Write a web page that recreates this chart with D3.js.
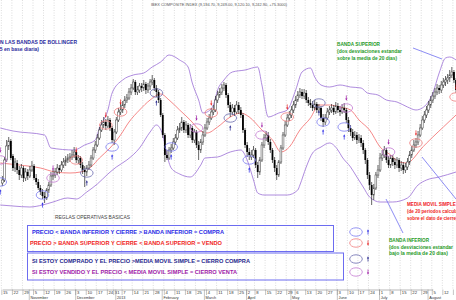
<!DOCTYPE html>
<html>
<head>
<meta charset="utf-8">
<script src="https://cdn.jsdelivr.net/npm/d3@7"></script>
<style>
  body { margin: 0; background: #fff; }
  svg { display: block; font-family: "Liberation Sans", Arial, sans-serif; }
</style>
</head>
<body>
<svg id="chart" width="456" height="300"></svg>
<script>
// IBEX daily candles, Oct 2012 - Aug 2013, with 20 day Bollinger bands
const holidays = ['2012-12-25', '2012-12-26', '2013-01-01', '2013-03-29', '2013-04-01', '2013-05-01'];

const openPx = [
  7770,7800,8000,8140,8190,8040,7920,7970,7900,
  7850,7920,7820,7880,7840,7900,7940,7820,7780,7720,
  7680,7640,7620,7700, 7750,7840,7850,7880,7920,
  7900,7950,7980,8000,8020,8030,8050,8080,8000,8020,
  7950,7900,7880,7920,7950,8020,8100,8150,8220,8300,
  8350,8380,8340,8400,8320,8200,8280,8400,8480,8500,
  8550,8600,8620,8680, 8720,8780,8680,8700,8740,
  8720,8760,8700,8740,8780,8800,8720,8680,8600,8450,
  8250,8050,8020,8100,8120,8180,8220,8300,8320,8380,
  8300,8350,8250,8320,8200,8280,8150,8100,8180,8250,
  8320,8380,8420,8480, 8500,8600,8650,8680,8720,
  8750,8650,8550,8480,8520,8480,8550,8500,8450,8300,
  8150,8080,8030,8050,8100,7950,7880,8000,8150,8220,
  8250,8180,8100,8000,7920,7850,7980,8120,8250,8350,
  8420,8450,8500,8550, 8600,8650,8680,8640,8670,
  8600,8570,8550,8520,8560,8500,8520,8420,8380,8420,
  8480,8500,8520,8480,8540,8500,8480,8520,8500,8400,
  8320,8280,8220,8250,8200,8220,8170,8100,8000,7850,
  7750,7650,7720,7850, 7900,8020,8050,8100,8000,
  7950,8020,7980,7950,8000,7920,7950,7900,7930,7980,
  8050,8100,8150,8180,8250,8320,8400,8450,8500,8550,
  8600,8640,8680,8720,8700,8750,8780,8800,8820,8850,
  8880,8800
];
const highPx = [
  7840,8030,8200,8230,8210,8060,8020,8000,7940,
  7960,7940,7920,7910,7940,7990,7960,7860,7810,7750,
  7710,7680,7720,7780, 7880,7900,7920,7960,7950,
  7990,8020,8040,8060,8070,8100,8130,8100,8050,8040,
  7980,7940,7950,7990,8050,8130,8190,8260,8330,8400,
  8430,8410,8440,8420,8340,8310,8430,8520,8560,8590,
  8640,8660,8720,8760, 8810,8800,8740,8770,8770,
  8800,8780,8770,8810,8850,8820,8750,8700,8620,8470,
  8270,8100,8130,8160,8220,8260,8340,8370,8430,8400,
  8390,8370,8360,8340,8310,8300,8190,8210,8290,8360,
  8420,8460,8520,8550, 8640,8690,8720,8760,8780,
  8770,8670,8580,8560,8550,8590,8580,8530,8470,8320,
  8180,8120,8100,8140,8120,7980,8030,8180,8260,8290,
  8280,8210,8120,8030,7950,8000,8150,8280,8390,8460,
  8490,8540,8590,8640, 8690,8720,8710,8710,8700,
  8630,8610,8590,8600,8580,8560,8540,8460,8460,8520,
  8540,8560,8550,8580,8570,8540,8560,8570,8520,8430,
  8350,8310,8290,8280,8260,8250,8200,8120,8020,7880,
  7780,7760,7880,7950, 8070,8100,8140,8120,8040,
  8050,8050,8020,8030,8020,7990,7980,7970,8020,8090,
  8140,8200,8220,8290,8360,8440,8490,8540,8590,8640,
  8680,8720,8760,8750,8790,8820,8840,8860,8900,8930,
  8900,8820
];
const lowPx = [
  7740,7780,7980,8100,8000,7890,7880,7860,7800,
  7820,7780,7790,7800,7820,7880,7800,7750,7700,7650,
  7610,7570,7600,7670, 7730,7800,7820,7850,7860,
  7880,7920,7940,7970,7980,8000,8020,7970,7960,7920,
  7860,7730,7840,7900,7930,8000,8070,8130,8200,8280,
  8320,8300,8320,8290,8170,8150,8260,8380,8450,8470,
  8520,8570,8600,8650, 8700,8650,8650,8670,8680,
  8690,8660,8670,8700,8750,8690,8630,8570,8430,8220,
  7980,8000,8000,8070,8100,8150,8200,8270,8290,8270,
  8270,8220,8220,8170,8170,8120,8000,8070,8150,8230,
  8300,8350,8400,8450, 8480,8570,8620,8650,8690,
  8620,8520,8430,8450,8440,8460,8460,8420,8270,8120,
  8030,8000,8000,8020,7920,7820,7850,7980,8120,8190,
  8150,8070,7970,7880,7800,7830,7960,8100,8230,8330,
  8390,8420,8470,8520, 8580,8620,8610,8610,8570,
  8540,8520,8490,8500,8470,8470,8390,8330,8350,8400,
  8450,8470,8450,8460,8470,8440,8460,8470,8370,8280,
  8240,8190,8200,8160,8170,8130,8060,7960,7810,7700,
  7550,7600,7700,7820, 7880,7990,8020,7970,7920,
  7920,7940,7910,7920,7880,7890,7860,7870,7900,7950,
  8020,8080,8120,8150,8230,8300,8370,8420,8470,8520,
  8570,8610,8650,8660,8670,8720,8740,8760,8780,8820,
  8770,8670
];
const closePx = [
  7800,8000,8140,8190,8020,7920,7980,7900,7850,
  7920,7820,7880,7840,7900,7940,7820,7780,7720,7680,
  7640,7620,7700,7750, 7840,7850,7880,7920,7900,
  7950,7980,8000,8020,8030,8050,8080,8000,8020,7950,
  7900,7880,7920,7950,8020,8100,8150,8220,8300,8350,
  8380,8340,8400,8320,8200,8280,8400,8480,8500,8550,
  8600,8620,8680,8720, 8780,8680,8700,8740,8720,
  8760,8700,8740,8780,8800,8720,8680,8600,8450,8250,
  8050,8020,8100,8120,8180,8220,8300,8320,8380,8300,
  8350,8250,8320,8200,8280,8150,8100,8180,8250,8320,
  8380,8420,8480,8500, 8600,8650,8680,8720,8750,
  8650,8550,8480,8520,8480,8550,8500,8450,8300,8150,
  8080,8050,8050,8100,7950,7880,8000,8150,8220,8250,
  8180,8100,8000,7920,7850,7980,8120,8250,8350,8420,
  8450,8500,8550,8600, 8650,8680,8640,8670,8600,
  8570,8550,8520,8560,8500,8520,8420,8380,8420,8480,
  8500,8520,8480,8540,8500,8480,8520,8500,8400,8320,
  8280,8220,8250,8200,8220,8170,8100,8000,7850,7750,
  7650,7720,7850,7900, 8020,8050,8100,8000,7950,
  8020,7980,7950,8000,7920,7950,7900,7930,7980,8050,
  8100,8150,8180,8250,8320,8400,8450,8500,8550,8600,
  8640,8680,8720,8700,8750,8780,8800,8820,8850,8880,
  8800,8700
];

// bands (trading day index, level)
const upperDay = [-1,5,20,23,34,39,44,46,50,52,57,62,67,71,75,79,84,88,90,93,95,97,100,102,105,109,115,121,123,126,131,135,139,142,146,148,151,155,160,165,170,173,178,182,187,192,196,199,204,207,210,212,215];
const upperBand = [8320,8290,8250,8120,8100,8150,8200,8320,8500,8670,8800,8850,8870,8930,8980,9050,9000,8930,8770,8600,8470,8480,8550,8700,8800,8880,8900,8930,8750,8430,8470,8500,8700,8880,8920,8830,8750,8730,8750,8730,8720,8670,8650,8600,8580,8530,8500,8520,8670,8870,9020,9030,9000];
const smaDay = [-1,8,18,25,32,37,42,46,51,56,60,65,70,75,79,84,89,94,97,102,108,113,117,123,128,132,136,141,146,150,155,160,165,169,174,179,184,188,192,195,198,204,209,215];
const smaLine = [7970,7950,7920,7880,7870,7880,7930,8020,8120,8250,8380,8500,8600,8660,8600,8500,8400,8290,8270,8330,8430,8470,8430,8300,8200,8080,8130,8300,8420,8550,8550,8530,8500,8400,8300,8130,8050,7980,7970,8020,8100,8230,8330,8450];
const lowerDay = [-1,5,13,19,24,31,35,40,45,50,54,59,65,70,73,76,78,80,84,89,94,96,102,108,113,116,119,121,124,135,140,141,144,147,151,155,159,161,165,168,171,174,179,185,192,197,201,207,215];
const lowerBand = [7550,7540,7530,7550,7580,7620,7610,7680,7760,7860,7930,8000,8120,8280,8350,8250,8050,7920,7860,7830,7950,8020,8030,8080,8100,8000,7800,7670,7650,7650,7700,7750,7930,8070,8130,8170,8100,8030,7930,7830,7730,7630,7580,7580,7620,7750,7800,7830,7880];

// circled signals drawn on the chart
const signalDay = [-1,-1,19,24,35,40,49,52,56,73,80,92,99,108,117,123,135,150,152,163,162,183,196,215];
const signalPrice = [7780,8000,7650,7820,8000,7870,8350,8130,8480,8670,8130,8320,8470,8420,8000,8250,8430,8570,8380,8520,8330,8080,8170,8630];
const signalKind = ['buy','closeSell','buy','closeSell','sell','closeBuy','sell','buy','sell','closeBuy','buy','closeSell','sell','closeBuy','buy','closeSell','sell','closeBuy','buy','closeSell','buy','closeSell','sell','sell'];

const kinds = {
  buy:       { ring: '#7b7bf0', arrow: '#2b2be6', up: true },
  sell:      { ring: '#f07c7c', arrow: '#e82222', up: false },
  closeBuy:  { ring: '#6a6aae', arrow: '#26268c', up: true },
  closeSell: { ring: '#c47ad2', arrow: '#a020a8', up: false }
};

const width = 456, height = 300, plotBottom = 289.5;
const svg = d3.select('#chart');

const holidaySet = new Set(holidays);
const fmtDay = d3.timeFormat('%Y-%m-%d');
const days = d3.timeDay.range(new Date(2012, 9, 15), new Date(2013, 8, 30))
  .filter(d => d.getDay() % 6 !== 0 && !holidaySet.has(fmtDay(d)))
  .slice(0, closePx.length);

const x = d3.scaleLinear().domain([0, 204]).range([2.4, 2.4 + 204 * 2.11]);
const y = d3.scaleLinear().domain([6600, 9600]).range([300, 0]);

const weekStarts = d3.range(days.length)
  .filter(i => i === 0 || +d3.timeMonday.floor(days[i]) !== +d3.timeMonday.floor(days[i - 1]));
const monthStarts = d3.range(1, days.length)
  .filter(i => days[i].getMonth() !== days[i - 1].getMonth());

svg.append('defs').append('clipPath').attr('id', 'plot')
  .append('rect').attr('width', width).attr('height', plotBottom);

// dotted week grid
svg.append('g')
  .selectAll('line')
  .data(weekStarts)
  .enter()
  .append('line')
  .attr('x1', d => x(d - 0.5)).attr('x2', d => x(d - 0.5))
  .attr('y1', 0).attr('y2', plotBottom)
  .attr('stroke', '#c4c4c4')
  .attr('stroke-width', 0.6)
  .attr('stroke-dasharray', '1,1.5');

const plot = svg.append('g').attr('clip-path', 'url(#plot)');

const bandLine = d3.line().curve(d3.curveMonotoneX);
const drawBand = (dayIdx, vals, color) => plot.append('path')
  .attr('d', bandLine(dayIdx.map((d, i) => [x(d), y(vals[i])])))
  .attr('fill', 'none')
  .attr('stroke', color)
  .attr('stroke-width', 0.8);

drawBand(upperDay, upperBand, '#9b6fd6');
drawBand(lowerDay, lowerBand, '#9b6fd6');
drawBand(smaDay, smaLine, '#f26a6a');

// candles
const candle = plot.append('g')
  .selectAll('g')
  .data(d3.range(closePx.length))
  .enter()
  .append('g');

candle.append('line')
  .attr('x1', i => x(i)).attr('x2', i => x(i))
  .attr('y1', i => y(highPx[i])).attr('y2', i => y(lowPx[i]))
  .attr('stroke', '#222')
  .attr('stroke-width', 0.7);

candle.append('rect')
  .attr('x', i => x(i) - 0.9)
  .attr('width', 1.8)
  .attr('y', i => y(Math.max(openPx[i], closePx[i])))
  .attr('height', i => Math.max(0.6, Math.abs(y(openPx[i]) - y(closePx[i]))))
  .attr('fill', i => closePx[i] < openPx[i] ? '#000' : '#fff')
  .attr('stroke', i => closePx[i] < openPx[i] ? 'none' : '#4a4a4a')
  .attr('stroke-width', 0.55);

function arrow(g, cx, cy, up, color) {
  const s = up ? 1 : -1;
  g.append('line')
    .attr('x1', cx).attr('x2', cx)
    .attr('y1', cy + 2.6 * s).attr('y2', cy - 1 * s)
    .attr('stroke', color).attr('stroke-width', 0.7);
  g.append('path')
    .attr('d', `M${cx - 1.1},${cy - 0.6 * s}L${cx},${cy - 2.8 * s}L${cx + 1.1},${cy - 0.6 * s}Z`)
    .attr('fill', color);
}

function ring(g, cx, cy, color) {
  g.append('ellipse')
    .attr('cx', cx).attr('cy', cy)
    .attr('rx', 6.3).attr('ry', 4.2)
    .attr('fill', 'none')
    .attr('stroke', color)
    .attr('stroke-width', 0.8);
}

const signals = plot.append('g');
signalDay.forEach((d, i) => {
  const k = kinds[signalKind[i]];
  const cx = x(d), cy = y(signalPrice[i]);
  ring(signals, cx, cy, k.ring);
  arrow(signals, cx, k.up ? cy + 10 : cy - 10, k.up, k.arrow);
});

// x axis: week days on top row, months below
const lastLabel = 450;
const axis = svg.append('g').attr('transform', `translate(0,${plotBottom})`);
axis.call(d3.axisBottom(x)
    .tickValues(weekStarts.map(i => i - 0.5))
    .tickSize(5.5).tickSizeOuter(0)
    .tickFormat(v => x(v) > lastLabel ? '' : d3.timeFormat('%-d')(days[Math.round(v + 0.5)])));
axis.select('.domain').attr('stroke', '#888').attr('stroke-width', 0.6);
axis.selectAll('.tick line').attr('stroke', '#888').attr('stroke-width', 0.5);
axis.selectAll('.tick text')
  .attr('x', 1.2).attr('y', 1.3).attr('dy', '0.71em')
  .attr('text-anchor', 'start')
  .attr('fill', '#333')
  .style('font-size', '4.2px');

const monthAxis = svg.append('g').attr('transform', `translate(0,${plotBottom})`);
monthAxis.call(d3.axisBottom(x)
    .tickValues(monthStarts.map(i => i - 0.5))
    .tickSize(10.5).tickSizeOuter(0)
    .tickFormat(v => {
      const d = days[Math.round(v + 0.5)];
      return d.getMonth() === 0 ? d3.timeFormat('%Y')(d) : d3.timeFormat('%B')(d);
    }));
monthAxis.select('.domain').remove();
monthAxis.selectAll('.tick line').attr('stroke', '#888').attr('stroke-width', 0.5);
monthAxis.selectAll('.tick text')
  .attr('x', 1.2).attr('y', 6.6).attr('dy', '0.71em')
  .attr('text-anchor', 'start')
  .attr('fill', '#333')
  .style('font-size', '3.8px');

// pointer lines for the notes
const pointers = [
  [413, 48, 442, 59, '#7070f0'],
  [386, 199, 403, 233, '#7070f0'],
  [422, 157, 456, 199, '#7070f0']
];
svg.append('g')
  .selectAll('line')
  .data(pointers)
  .enter()
  .append('line')
  .attr('x1', d => d[0]).attr('y1', d => d[1])
  .attr('x2', d => d[2]).attr('y2', d => d[3])
  .attr('stroke', d => d[4])
  .attr('stroke-width', 0.8);

// rule boxes
svg.append('rect').attr('x', 27.5).attr('y', 225.5).attr('width', 306).attr('height', 26)
  .attr('fill', 'none').attr('stroke', '#6c6cf0').attr('stroke-width', 1);
svg.append('rect').attr('x', 27.5).attr('y', 253).attr('width', 316).attr('height', 27)
  .attr('fill', 'none').attr('stroke', '#6c6cf0').attr('stroke-width', 1);

function label(tx, ty, str, opts) {
  const t = svg.append('text')
    .attr('x', tx).attr('y', ty)
    .attr('fill', opts.color)
    .attr('text-anchor', opts.anchor || 'start')
    .style('font-size', (opts.size || 4.6) + 'px')
    .style('font-weight', opts.bold === false ? 'normal' : 'bold')
    .text(str);
  if (opts.len) t.attr('textLength', opts.len).attr('lengthAdjust', 'spacingAndGlyphs');
  return t;
}

label(151, 5.5, 'IBEX COMPOSITE INDEX (9,194.70, 9,249.00, 9,120.10, 9,242.90, +75.3000)',
  { color: '#555', size: 4.4, bold: false, len: 136 });

label(77, 44, 'COMO OPERAR CON LAS BANDAS DE BOLLINGER', { color: '#2b2b9e', size: 5, anchor: 'end' });
label(39, 50.5, '(IBEX 35 en base diaria)', { color: '#2b2b9e', size: 5, anchor: 'end' });

label(337, 46, 'BANDA SUPERIOR', { color: '#1f9a1f', len: 43 });
label(337, 53, '(dos desviaciones estandar', { color: '#1f9a1f', len: 65 });
label(337, 60, 'sobre la media de 20 dias)', { color: '#1f9a1f', len: 60 });

label(389, 242, 'BANDA INFERIOR', { color: '#1f9a1f', len: 40 });
label(389, 248.5, '(dos desviaciones estandar', { color: '#1f9a1f', len: 64 });
label(389, 255, 'bajo la media de 20 dias)', { color: '#1f9a1f', len: 59 });

label(407, 206, 'MEDIA MOVIL SIMPLE', { color: '#f02424' });
label(407, 213, '(de 20 periodos calculada', { color: '#f02424' });
label(407, 220, 'sobre el dato de cierre)', { color: '#f02424' });

label(55, 218.5, 'REGLAS OPERATIVAS BASICAS', { color: '#444', size: 4.8, bold: false, len: 75 });

label(32, 234, 'PRECIO < BANDA INFERIOR Y CIERRE > BANDA INFERIOR = COMPRA', { color: '#2b2be6', size: 5.2, len: 192 });
label(30, 244.5, 'PRECIO > BANDA SUPERIOR Y CIERRE < BANDA SUPERIOR = VENDO', { color: '#f02424', size: 5.2, len: 192 });
label(32, 262.5, 'SI ESTOY COMPRADO Y EL PRECIO >MEDIA MOVIL SIMPLE = CIERRO COMPRA', { color: '#26268c', size: 5.2, len: 218 });
label(32, 273.5, 'SI ESTOY VENDIDO Y EL PRECIO < MEDIA MOVIL SIMPLE = CIERRO VENTA', { color: '#a020a8', size: 5.2, len: 205 });

// legend marks next to the boxes
const legendKinds = ['buy', 'sell', 'closeBuy', 'closeSell'];
const legendY = [232, 243, 259, 272];
const legend = svg.append('g');
legendKinds.forEach((k, i) => {
  ring(legend, 356, legendY[i], kinds[k].ring);
  arrow(legend, 368, legendY[i], kinds[k].up, kinds[k].arrow);
});
</script>
</body>
</html>
